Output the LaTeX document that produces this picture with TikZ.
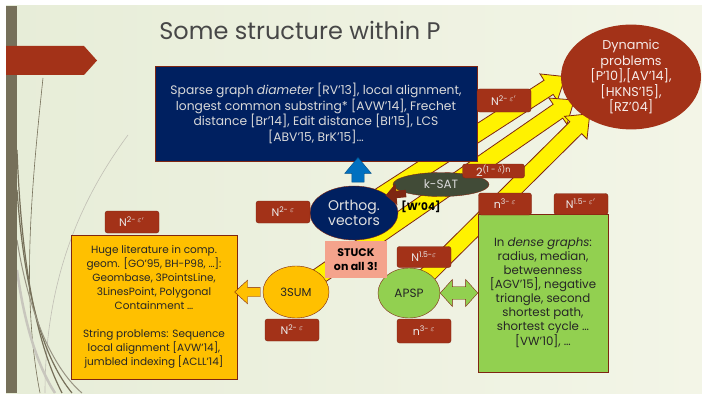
\documentclass[tikz,border=0pt]{standalone}
\usepackage{fontspec}
\setmainfont{Poppins}
\usepackage{tikz}
\usetikzlibrary{calc,positioning,shapes.geometric,shapes.arrows,backgrounds}
\definecolor{w_red}{HTML}{A33218}
\definecolor{w_redline}{HTML}{7E2612}
\definecolor{w_navy}{HTML}{002060}
\definecolor{w_gold}{HTML}{FFC000}
\definecolor{w_green}{HTML}{92D050}
\definecolor{w_salmon}{HTML}{F4A38C}
\definecolor{w_olive}{HTML}{414B37}
\definecolor{w_blue}{HTML}{0070C0}
\definecolor{w_bar}{HTML}{76705A}
\definecolor{w_bgl}{HTML}{E7EDD8}
\definecolor{w_bgr}{HTML}{F3F5E7}
\definecolor{w_text}{HTML}{262626}
\tikzstyle{cost} = [rectangle, draw=w_redline, fill=w_red, text=white!92!black,
	rounded corners=2.5pt, minimum width=54pt, minimum height=22pt, inner sep=1pt,
	font=\fontsize{11}{12}\selectfont]
\tikzstyle{problem} = [ellipse, draw=w_redline, inner sep=0pt, align=center,
	font=\fontsize{11.5}{15}\selectfont]
\tikzstyle{litbox} = [rectangle, draw=w_redline, text=w_text, align=center,
	font=\fontsize{10.5}{14}\selectfont]
\tikzstyle{yarrow} = [single arrow, draw=w_redline, fill=yellow, line width=0.8pt,
	inner xsep=0pt, inner ysep=7.5pt, minimum width=32pt, single arrow tip angle=78]
\tikzstyle{barrow} = [single arrow, draw=w_blue!70!black, fill=w_blue, inner xsep=0pt,
	inner ysep=6pt, minimum width=23pt, single arrow tip angle=80]
\tikzstyle{rarrow} = [single arrow, fill=w_redline, inner xsep=0pt,
	inner ysep=3.5pt, minimum width=13pt, single arrow tip angle=90]
\tikzstyle{oarrow} = [single arrow, draw=w_redline, fill=w_gold, inner xsep=0pt,
	inner ysep=4.5pt, minimum width=22pt, single arrow tip angle=85]
\tikzstyle{garrow} = [double arrow, draw=w_redline, fill=w_green, inner xsep=0pt,
	inner ysep=6pt, minimum width=27pt, double arrow tip angle=96]
\newcommand{\fatarrow}[3][]{%
	\path let \p1=($(#3)-(#2)$), \n1={veclen(\x1,\y1)}, \n2={atan2(\y1,\x1)} in
		node[#1, minimum height=\n1, rotate=\n2] at ($(#2)!0.5!(#3)$) {};}

\begin{document}
\begin{tikzpicture}[x=1pt, y=-1pt]
	\useasboundingbox (0,0) rectangle (702,396);
	\begin{pgfonlayer}{background}
		\fill[white] (0,0) rectangle (702,396);
		\fill[left color=w_bgl, right color=w_bgr] (6,6) rectangle (702,393);
		\draw[w_bar, line width=0.6pt] (43,78) .. controls (30,200) and (22,300) .. (40,393);
		\draw[w_bar!45, line width=0.6pt] (128,135) .. controls (80,200) and (45,280) .. (45,393);
		\draw[w_bar, line width=1.2pt] (17,150) .. controls (22,280) and (40,350) .. (62,393);
		\draw[w_bar, line width=1.2pt] (17,190) .. controls (25,300) and (45,360) .. (72,393);
		\draw[w_bar!75, line width=1pt] (17,240) .. controls (30,320) and (55,370) .. (82,393);
		\draw[w_bar!40, line width=2.5pt] (17,270) .. controls (25,330) and (40,370) .. (55,393);
		\fill[w_bar] (6,6) rectangle (17,393);
		\fill[w_red] (6,46) -- (84,46) -- (97,60.5) -- (84,75) -- (6,75) -- cycle;
	\end{pgfonlayer}

	\node[text=black!72] (title) at (300,30) {\fontsize{24}{28}\selectfont Some structure within P};

	\node[rectangle, draw=w_redline, fill=w_navy, text=white!85!black, align=center,
		minimum width=322pt, minimum height=95pt, font=\fontsize{12.3}{15.5}\selectfont]
		(navy) at (316,113.5) {Sparse graph \emph{diameter} [RV'13], local alignment,\\
		longest common substring* [AVW'14], Frechet\\
		distance [Br'14], Edit distance [BI'15], LCS\\{}%
		[ABV'15, BrK'15]…};

	\node[ellipse, fill=w_red, text=white!90!w_red, align=center, inner sep=0pt,
		minimum width=140pt, minimum height=104pt, font=\fontsize{12.8}{15.5}\selectfont]
		(dyn) at (631,77) {Dynamic\\problems\\{}[P'10],[AV'14],\\{}[HKNS'15],\\{}[RZ'04]};

	\node[problem, fill=w_navy, text=white!88!black, minimum width=88pt, minimum height=54pt,
		font=\fontsize{14}{15}\selectfont] (ov) at (354,213) {Orthog.\\vectors};
	\node[problem, fill=w_olive, text=white!85!black, minimum width=96pt, minimum height=24pt,
		font=\fontsize{12}{14}\selectfont] (ks) at (441,184.5) {k-SAT};
	\node[problem, fill=w_gold, text=w_text, minimum width=66pt, minimum height=52pt] (sum) at (296,292) {3SUM};
	\node[problem, fill=w_green, text=w_text, minimum width=62pt, minimum height=50pt,
		font=\fontsize{12}{14}\selectfont] (apsp) at (409,293) {APSP};
	\node[rectangle, fill=w_salmon, align=center, minimum width=62pt, minimum height=37pt,
		font=\bfseries\fontsize{11}{14}\selectfont] (stuck) at (356,259.5) {STUCK\\on all 3!};

	\node[litbox, fill=w_gold, minimum width=166pt, minimum height=144pt] (obox) at (154,307)
		{Huge literature in comp.\\geom. [GO'95, BH-P98, …]:\\Geombase, 3PointsLine,\\
		3LinesPoint, Polygonal\\Containment …\\[14pt]String problems: Sequence\\
		local alignment [AVW'14],\\jumbled indexing [ACLL'14]};
	\node[litbox, fill=w_green, minimum width=130pt, minimum height=158pt,
		font=\fontsize{11.8}{14}\selectfont] (gbox) at (543,293)
		{In \emph{dense graphs}:\\radius, median,\\betweenness\\{}[AGV'15], negative\\
		triangle, second\\shortest path,\\shortest cycle …\\{}[VW'10], …};

	\node[cost] (ovcost) at (283,212) {N\textsuperscript{2- $\varepsilon$}};
	\node[cost] (sumcost) at (292,330) {N\textsuperscript{2- $\varepsilon$}};
	\node[cost, minimum height=23pt] (dyncost) at (504,100.5) {N\textsuperscript{2- $\varepsilon'$}};
	\node[cost, minimum width=62pt, minimum height=14pt, inner sep=0pt] (kscost) at (493.5,171)
		{\fontsize{11.5}{12}\selectfont 2\textsuperscript{(1 - $\delta$)n}};
	\node[cost, minimum width=53pt] (gcost) at (505,204) {n\textsuperscript{3- $\varepsilon$}};
	\node[cost, minimum height=21pt] (gcost2) at (581,204) {N\textsuperscript{1.5- $\varepsilon'$}};
	\node[cost, minimum height=21pt] (apspcost) at (424,257) {N\textsuperscript{1.5-$\varepsilon$}};
	\node[cost, minimum height=24pt] (apspcost2) at (424,331) {n\textsuperscript{3- $\varepsilon$}};
	\node[cost] (ocost) at (132,222) {N\textsuperscript{2- $\varepsilon'$}};

	\node[font=\bfseries\fontsize{10.5}{12}\selectfont] (wref) at (421,207) {[W'04]};

	\begin{pgfonlayer}{background}
		\fatarrow[yarrow]{ov.center}{dyn.182}
		\fatarrow[yarrow]{sum.center}{dyn.203}
		\fatarrow[yarrow]{apsp.center}{dyn.222}
	\end{pgfonlayer}

	\coordinate (btail) at ([xshift=4pt]ov.north);
	\coordinate (bhead) at (btail |- navy.south);
	\fatarrow[barrow]{btail}{bhead}
	\fatarrow[rarrow]{ks.195}{ov.28}
	\coordinate (ohead) at (obox.east |- sum.west);
	\fatarrow[oarrow]{sum.west}{ohead}
	\coordinate (ghead) at (gbox.west |- apsp.east);
	\fatarrow[garrow]{apsp.east}{ghead}
\end{tikzpicture}
\end{document}
